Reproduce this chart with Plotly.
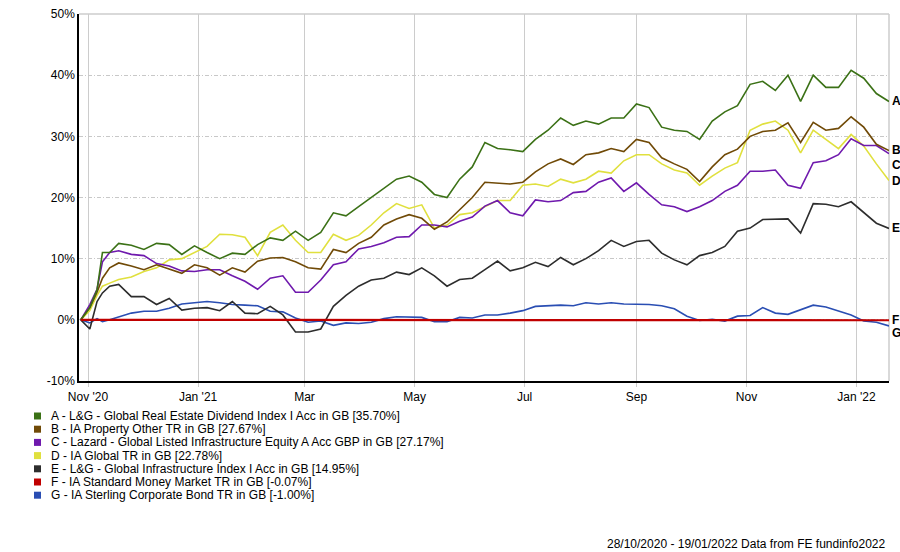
import plotly.graph_objects as go

dates = [
    "2020-10-28", "2020-11-02", "2020-11-06", "2020-11-09", "2020-11-13", "2020-11-18", "2020-11-25",
    "2020-12-02", "2020-12-09", "2020-12-16", "2020-12-23", "2020-12-30",
    "2021-01-06", "2021-01-13", "2021-01-20", "2021-01-27",
    "2021-02-03", "2021-02-10", "2021-02-17", "2021-02-24",
    "2021-03-03", "2021-03-10", "2021-03-17", "2021-03-24", "2021-03-31",
    "2021-04-07", "2021-04-14", "2021-04-21", "2021-04-28",
    "2021-05-05", "2021-05-12", "2021-05-19", "2021-05-26",
    "2021-06-02", "2021-06-09", "2021-06-16", "2021-06-23", "2021-06-30",
    "2021-07-07", "2021-07-14", "2021-07-21", "2021-07-28",
    "2021-08-04", "2021-08-11", "2021-08-18", "2021-08-25",
    "2021-09-01", "2021-09-08", "2021-09-15", "2021-09-22", "2021-09-29",
    "2021-10-06", "2021-10-13", "2021-10-20", "2021-10-27",
    "2021-11-03", "2021-11-10", "2021-11-17", "2021-11-24",
    "2021-12-01", "2021-12-08", "2021-12-15", "2021-12-22", "2021-12-29",
    "2022-01-05", "2022-01-12", "2022-01-19",
]

series_a = [0, 2, 4.9, 11, 11, 12.5, 12.2, 11.5, 12.5, 12.3, 10.7, 12.1,
            11, 10, 10.9, 10.7, 12.3, 13.4, 13, 14.5,
            13, 14.3, 17.5, 17, 18.5, 20, 21.5, 23, 23.5,
            22.5, 20.5, 20, 23, 25, 29, 28, 27.8, 27.5,
            29.5, 31, 33, 31.8, 32.5, 32, 33, 33,
            35.3, 34.7, 31.5, 31, 30.8, 29.5, 32.5, 34, 35,
            38.5, 39, 37.5, 40, 35.7, 40, 38, 38, 40.8, 39.5, 37, 35.70]
series_b = [0, 2, 4.5, 6.8, 8.5, 9.3, 8.8, 8.2, 9, 8.3, 7.6, 9,
            8.5, 7.3, 8.5, 7.8, 9.6, 10.1, 10.2, 9.5,
            8.5, 8.3, 11.5, 11, 12.5, 13.5, 15.5, 16.5, 17.2,
            16.6, 14.8, 16, 18, 20, 22.5, 22.4, 22.2, 22.5,
            24.2, 25.5, 26.3, 25.4, 27, 27.3, 28, 27.5,
            29.5, 29, 26.5, 25.5, 24.6, 22.6, 25, 27, 27.9,
            30, 30.8, 31, 32.2, 29, 32.3, 31, 31.3, 33.2, 31.5, 28.7, 27.67]
series_c = [0, 2.5, 5, 9.5, 11, 11.3, 10.7, 10.5, 9.2, 8.8, 8, 7.9,
            8.2, 8.2, 7.2, 6.3, 5, 6.8, 7.2, 4.5,
            4.5, 6.5, 9, 9.5, 11.6, 12, 12.6, 13.5, 13.6,
            15.5, 15.5, 15.2, 16.1, 16.8, 18.6, 19.5, 17.5, 17,
            19.6, 19.3, 19.5, 20.8, 21, 22.5, 23.2, 21,
            22.4, 20.5, 18.8, 18.5, 17.7, 18.5, 19.5, 21, 22,
            24.3, 24.3, 24.5, 22, 21.5, 25.7, 26, 27, 29.6, 28.5, 28.5, 27.17]
series_d = [0, 1.5, 4, 5.5, 6, 6.6, 7, 7.9, 8.5, 9.8, 10, 11,
            12, 14, 13.9, 13.5, 10.5, 14.3, 15.5, 13,
            11, 11, 14, 13, 13.8, 15.5, 17.5, 19, 18.2,
            18.8, 15, 15.5, 17.2, 17.5, 18.5, 19.5, 19.5, 22,
            22.2, 21.8, 23, 22.4, 23, 24.3, 24, 26,
            27, 27, 25.5, 24.5, 24, 22, 23.5, 24.8, 25.7,
            31, 32, 32.5, 31, 27.3, 31, 29.5, 28, 30.3, 28.4, 25.5, 22.78]
series_e = [0, -1.5, 3, 4.4, 5.5, 5.8, 3.8, 3.8, 2.5, 3.5, 1.6, 1.9,
            2, 1.5, 3, 1.1, 1, 2.2, 0.8, -2,
            -2, -1.5, 2.2, 4, 5.5, 6.5, 6.8, 7.8, 7.4,
            8.5, 7.2, 5.5, 6.6, 6.8, 8.2, 9.6, 8, 8.5,
            9.4, 8.7, 10.2, 9, 10, 11.3, 13, 12,
            12.8, 13, 10.9, 9.8, 9, 10.5, 11, 12, 14.5,
            15, 16.4, 16.4, 16.5, 14.2, 19, 18.9, 18.5, 19.3, 17.5, 15.8, 14.95]
series_f = [0, 0, 0, 0, 0, 0, 0, 0, 0, 0, 0, 0,
            0, 0, 0, 0, 0, 0, 0, 0,
            0, 0, 0, 0, 0, 0, 0, 0, 0,
            0, 0, 0, 0, 0, 0, 0, 0, 0,
            0, 0, 0, 0, 0, 0, 0, 0,
            0, 0, 0, 0, 0, 0, 0, 0, 0,
            -0.01, -0.01, -0.01, -0.02, -0.02, -0.03, -0.03, -0.04, -0.05, -0.05, -0.06, -0.07]
series_g = [0, -0.5, 0.2, -0.3, 0, 0.5, 1.1, 1.4, 1.4, 1.9, 2.6, 2.8,
            3, 2.8, 2.5, 2.4, 2.3, 1.4, 1.3, 0.3,
            -0.4, -0.2, -0.9, -0.5, -0.6, -0.4, 0.2, 0.5, 0.4,
            0.4, -0.3, -0.3, 0.4, 0.3, 0.8, 0.8, 1.1, 1.5,
            2.2, 2.3, 2.4, 2.3, 2.8, 2.6, 2.8, 2.6,
            2.6, 2.5, 2.3, 1.8, 0.6, -0.1, 0.1, -0.2, 0.6,
            0.7, 2, 1.1, 0.9, 1.6, 2.4, 2.1, 1.4, 0.8, -0.2, -0.4, -1.00]

letters = ["A", "B", "C", "D", "E", "F", "G"]
names = [
    "L&G - Global Real Estate Dividend Index I Acc in GB",
    "IA Property Other TR in GB",
    "Lazard - Global Listed Infrastructure Equity A Acc GBP in GB",
    "IA Global TR in GB",
    "L&G - Global Infrastructure Index I Acc in GB",
    "IA Standard Money Market TR in GB",
    "IA Sterling Corporate Bond TR in GB",
]
colors = ["#3b7116", "#704a07", "#6f19ad", "#e0e03e", "#2d2d2d", "#c00000", "#2a4eb3"]
all_series = [series_a, series_b, series_c, series_d, series_e, series_f, series_g]
label_shift = [0, 1, -11, 0, 0, 0, -7]

tick_dates = ["2020-11-01", "2021-01-01", "2021-03-01", "2021-05-01", "2021-07-01",
              "2021-09-01", "2021-11-01", "2022-01-01"]
tick_text = ["Nov '20", "Jan '21", "Mar", "May", "Jul", "Sep", "Nov", "Jan '22"]
y_ticks = [-10, 0, 10, 20, 30, 40, 50]
y_text = ["-10%", "0%", "10%", "20%", "30%", "40%", "50%"]

FONT = "Arial, Liberation Sans, sans-serif"
L, R, T, B = 79, 11, 14, 171
W, H = 900, 552
PW, PH = W - L - R, H - T - B

def px_x(p):
    return (p - L) / PW

def px_y(p):
    return (H - B - p) / PH

fig = go.Figure()
order = [6, 4, 3, 2, 1, 0, 5]
for i in order:
    fig.add_trace(go.Scatter(
        x=dates, y=all_series[i], mode="lines",
        line=dict(color=colors[i], width=2.2 if letters[i] == "F" else 1.6),
        name=letters[i], showlegend=False, hoverinfo="skip",
    ))

annotations = []
shapes = []
for i, s in enumerate(all_series):
    annotations.append(dict(
        x=dates[-1], y=s[-1], xref="x", yref="y", text="<b>%s</b>" % letters[i],
        showarrow=False, xanchor="left", yanchor="middle", xshift=1, yshift=label_shift[i],
        font=dict(family=FONT, size=12, color="#000"),
    ))
    row_y = 416 + i * 13.2
    shapes.append(dict(
        type="rect", xref="paper", yref="paper",
        x0=px_x(34), x1=px_x(41), y0=px_y(row_y + 3.5), y1=px_y(row_y - 3.5),
        fillcolor=colors[i], line=dict(width=0),
    ))
    annotations.append(dict(
        x=px_x(49), y=px_y(row_y), xref="paper", yref="paper",
        text="%s - %s [%.2f%%]" % (letters[i], names[i], s[-1]),
        showarrow=False, xanchor="left", yanchor="middle",
        font=dict(family=FONT, size=12, color="#000"),
    ))

annotations.append(dict(
    x=px_x(888), y=px_y(544), xref="paper", yref="paper",
    text="28/10/2020 - 19/01/2022 Data from FE fundinfo2022",
    showarrow=False, xanchor="right", yanchor="middle",
    font=dict(family=FONT, size=12, color="#000"),
))

shapes.append(dict(type="line", xref="paper", yref="paper", x0=0, x1=1, y0=1, y1=1,
                   line=dict(color="#cccccc", width=1.5), layer="below"))
shapes.append(dict(type="line", xref="paper", yref="paper", x0=1, x1=1, y0=0, y1=1,
                   line=dict(color="#cccccc", width=1.5), layer="below"))

fig.update_layout(
    width=W, height=H,
    margin=dict(l=L, r=R, t=T, b=B, autoexpand=False),
    paper_bgcolor="white", plot_bgcolor="white",
    font=dict(family=FONT, size=12, color="#000"),
    showlegend=False,
    annotations=annotations, shapes=shapes,
    xaxis=dict(
        range=["2020-10-27", "2022-01-19"], type="date",
        tickvals=tick_dates, ticktext=tick_text,
        showgrid=True, gridcolor="#cccccc", gridwidth=1.2,
        showline=True, linecolor="#000", linewidth=1.5,
        ticks="outside", ticklen=4, tickcolor="#cccccc", tickwidth=1.2,
        tickfont=dict(family=FONT, size=12, color="#000"), zeroline=False,
    ),
    yaxis=dict(
        range=[-10, 50], tickvals=y_ticks, ticktext=y_text,
        showgrid=True, gridcolor="#c8c8c8", gridwidth=1, griddash="4px,2px,1px,2px",
        showline=True, linecolor="#000", linewidth=1.5,
        ticks="", tickfont=dict(family=FONT, size=12, color="#000"), zeroline=False,
    ),
)

fig.write_html(
    "out.html",
    config={"displayModeBar": False},
    post_script="document.body.style.margin='0';document.body.style.overflow='hidden';",
)
